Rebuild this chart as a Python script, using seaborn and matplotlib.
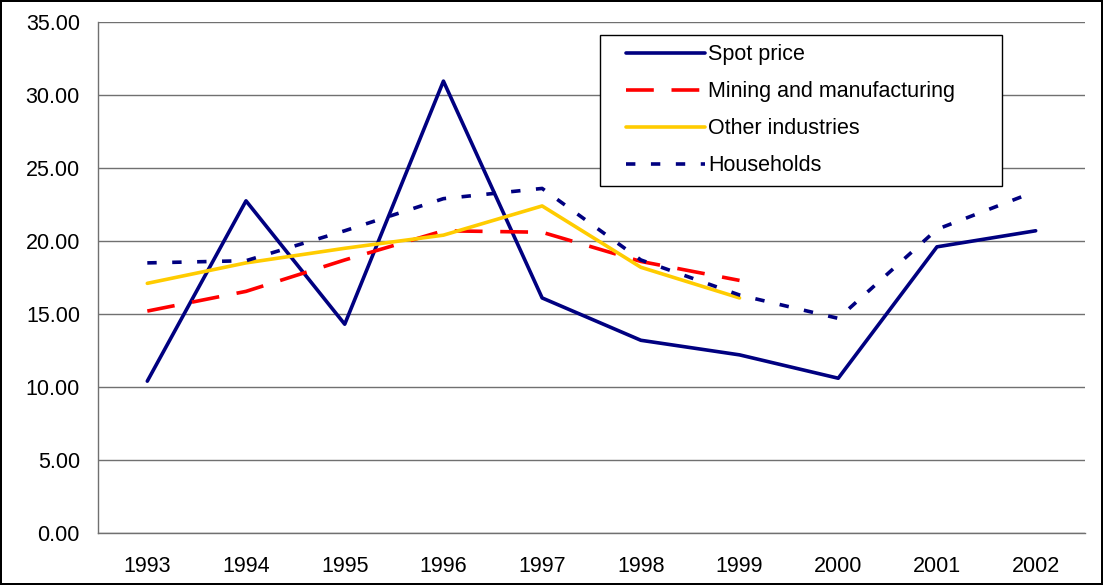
import numpy as np
import pandas as pd
import matplotlib
matplotlib.use("Agg")
import matplotlib.pyplot as plt
import seaborn as sns
from matplotlib.ticker import FixedLocator, FixedFormatter
from matplotlib.lines import Line2D
from matplotlib.legend_handler import HandlerLine2D

years = ["1993", "1994", "1995", "1996", "1997", "1998", "1999", "2000", "2001", "2002"]
spot_price = [10.4, 22.75, 14.3, 30.95, 16.1, 13.2, 12.2, 10.6, 19.6, 20.7]
mining = [15.2, 16.55, 18.7, 20.7, 20.6, 18.6, 17.3, np.nan, np.nan, np.nan]
other_ind = [17.1, 18.5, 19.5, 20.4, 22.4, 18.2, 16.1, np.nan, np.nan, np.nan]
households = [18.5, 18.65, 20.7, 22.9, 23.6, 18.7, 16.3, 14.7, 20.8, 23.4]

series = [
    ("Spot price", spot_price, "#000080", "-"),
    ("Mining and manufacturing", mining, "#FF0000", (0, (7.7, 4.9))),
    ("Other industries", other_ind, "#FFCC00", "-"),
    ("Households", households, "#000080", (0, (2.6, 4.3))),
]

sns.set_style("white")
plt.rcParams["font.family"] = ["Liberation Sans", "DejaVu Sans"]
plt.rcParams["text.color"] = "black"
plt.rcParams["xtick.labelcolor"] = "black"
plt.rcParams["ytick.labelcolor"] = "black"

FS = 15.5
fig = plt.figure(figsize=(11.03, 5.85), dpi=100, linewidth=1.5, edgecolor="black")
ax = fig.add_axes([0.0888, 0.0889, 0.8949, 0.8735])

pos = np.arange(len(years))
for name, vals, color, ls in series:
    df = pd.DataFrame({"x": pos, "y": vals})
    sns.lineplot(data=df, x="x", y="y", ax=ax, label=name, color=color,
                 linestyle=ls, linewidth=2.6)

ax.set_xlim(-0.5, len(years) - 0.5)
ax.set_ylim(0, 35)
ax.set_xlabel("")
ax.set_ylabel("")

yt = np.arange(0, 36, 5)
ax.set_yticks(yt)
ax.set_yticklabels([f"{v:.2f}" for v in yt])
ax.grid(axis="y", color="#707070", linewidth=1)
ax.grid(axis="x", visible=False)

ax.xaxis.set_major_locator(FixedLocator(pos))
ax.xaxis.set_major_formatter(FixedFormatter(years))
ax.xaxis.set_minor_locator(FixedLocator(np.arange(-0.5, len(years), 1.0)))
ax.tick_params(axis="x", which="major", length=0, pad=16.5, labelsize=FS, labelcolor="black")
ax.tick_params(axis="x", which="minor", length=6, width=1, color="#707070", direction="out")
ax.tick_params(axis="y", which="major", length=5, width=1, color="#707070", direction="out",
               labelsize=FS, pad=8, labelcolor="black")

for s in ["top", "right"]:
    ax.spines[s].set_visible(False)
for s in ["left", "bottom"]:
    ax.spines[s].set_color("#707070")
    ax.spines[s].set_linewidth(1)

leg = ax.legend(loc="upper left", bbox_to_anchor=(0.509, 0.0, 0.407, 0.975), mode="expand",
                frameon=True, fancybox=False, edgecolor="black", fontsize=FS,
                handlelength=4.42, handletextpad=0.14, labelspacing=0.74,
                borderpad=0.45, borderaxespad=0, labelcolor="black",
                handler_map={Line2D: HandlerLine2D(xpad=0.745)})
leg.get_frame().set_linewidth(1)
leg.get_frame().set_alpha(1)

fig.savefig("out.png", dpi=100, edgecolor=fig.get_edgecolor())
